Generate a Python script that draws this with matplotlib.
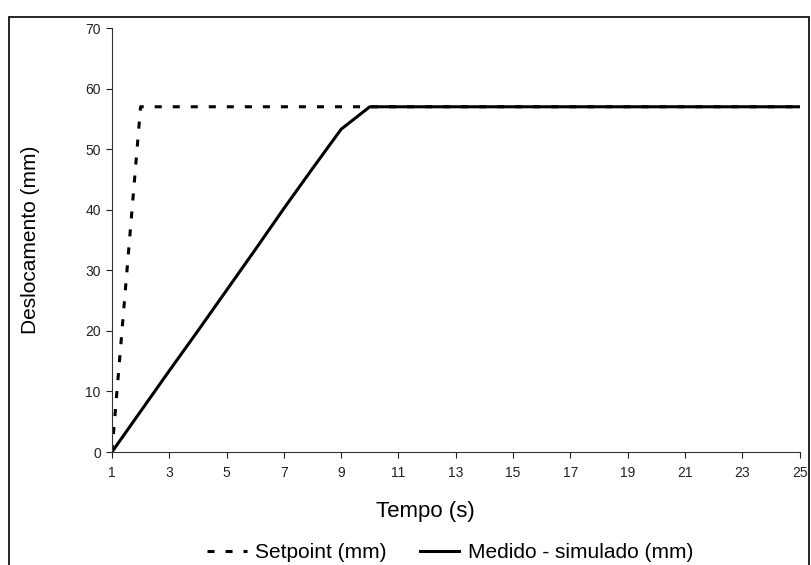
import matplotlib
matplotlib.use("Agg")
import matplotlib.pyplot as plt
from matplotlib.patches import Rectangle

plt.rcParams['font.family'] = ['Liberation Sans', 'DejaVu Sans']

# Data
tempo = list(range(1, 26))
setpoint = [0, 57] + [57] * 23
medido = [0, 6.7, 13.4, 20.0, 26.7, 33.4, 40.2, 46.8, 53.3, 57] + [57] * 15
x_tick_labels = list(range(1, 26, 2))
y_ticks = list(range(0, 71, 10))

fig = plt.figure(figsize=(8.11, 5.65), dpi=100)
ax = fig.add_axes([0.138, 0.2, 0.848, 0.7504])

ax.plot(tempo, setpoint, color="black", linewidth=2.2, linestyle=(0, (2.3, 3.6)),
        label="Setpoint (mm)")
ax.plot(tempo, medido, color="black", linewidth=2.2, label="Medido - simulado (mm)")

ax.set_xlim(1, 25)
ax.set_ylim(0, 70)
ax.set_xticks(x_tick_labels)
ax.set_yticks(y_ticks)
ax.tick_params(axis="both", labelsize=10, length=4, width=0.8, colors="#222222")
ax.tick_params(axis="x", pad=6)
ax.tick_params(axis="y", pad=4)
for s in ["top", "right"]:
    ax.spines[s].set_visible(False)
for s in ["left", "bottom"]:
    ax.spines[s].set_color("#333333")
    ax.spines[s].set_linewidth(0.8)

ax.set_xlabel("Tempo (s)", fontsize=16)
ax.xaxis.set_label_coords(0.456, -0.115)
ax.set_ylabel("Deslocamento (mm)", fontsize=15)
ax.yaxis.set_label_coords(-0.105, 0.5)

fig.legend(loc="center", bbox_to_anchor=(0.555, 0.022), ncol=2, frameon=False,
           fontsize=15, handlelength=1.9, columnspacing=1.6, handletextpad=0.4)

# outer chart border
fig.patches.append(Rectangle((0.011, -0.05), 0.986, 1.02, transform=fig.transFigure,
                             fill=False, edgecolor="black", linewidth=1.2))

fig.savefig("out.png", dpi=100)
